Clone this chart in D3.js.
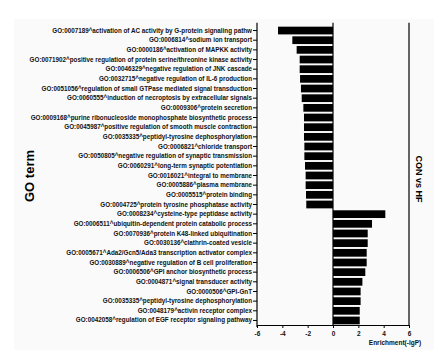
<!DOCTYPE html>
<html><head><meta charset="utf-8">
<script src="https://cdn.jsdelivr.net/npm/d3@7"></script>
<style>html,body{margin:0;padding:0;background:#fff;}svg{display:block;}</style>
</head><body>
<script>
const terms = [
"GO:0007189^activation of AC activity by G-protein signaling pathw",
"GO:0006814^sodium ion transport",
"GO:0000186^activation of MAPKK  activity",
"GO:0071902^positive regulation of protein serine/threonine kinase  activity",
"GO:0046329^negative regulation of JNK cascade",
"GO:0032715^negative regulation of IL-6 production",
"GO:0051056^regulation of small GTPase mediated signal transduction",
"GO:0060555^induction of necroptosis by extracellular  signals",
"GO:0009306^protein secretion",
"GO:0009168^purine ribonucleoside monophosphate biosynthetic process",
"GO:0045987^positive regulation of smooth muscle contraction",
"GO:0035335^peptidyl-tyrosine dephosphorylation",
"GO:0006821^chloride transport",
"GO:0050805^negative regulation of synaptic transmission",
"GO:0060291^long-term synaptic potentiation",
"GO:0016021^integral to membrane",
"GO:0005886^plasma membrane",
"GO:0005515^protein binding",
"GO:0004725^protein tyrosine phosphatase  activity",
"GO:0008234^cysteine-type peptidase activity",
"GO:0006511^ubiquitin-dependent protein catabolic process",
"GO:0070936^protein K48-linked ubiquitination",
"GO:0030136^clathrin-coated vesicle",
"GO:0005671^Ada2/Gcn5/Ada3 transcription activator complex",
"GO:0030889^negative regulation of B cell proliferation",
"GO:0006506^GPI anchor biosynthetic process",
"GO:0004871^signal transducer activity",
"GO:0000506^GPI-GnT",
"GO:0035335^peptidyl-tyrosine dephosphorylation",
"GO:0048179^activin receptor complex",
"GO:0042058^regulation of EGF receptor signaling pathway"
];
const enrichment = [
-4.34,-3.21,-2.87,-2.63,-2.63,-2.60,-2.53,-2.47,-2.34,-2.29,-2.29,-2.29,-2.26,-2.26,-2.21,-2.16,-2.16,-2.13,-2.11,
4.13,3.08,2.74,2.74,2.66,2.66,2.55,2.32,2.18,2.18,2.11,2.11
];
const xTicks = [-6,-4,-2,0,2,4,6];
const yTitle = "GO term";
const xTitle = "Enrichment(-lgP)";
const sideTitle = "CON vs HF";

const W = 439, H = 360;
const svg = d3.select("body").append("svg").attr("width", W).attr("height", H)
  .style("font-family", "'Liberation Sans', Arial, sans-serif");

svg.append("rect").attr("x",14).attr("y",19).attr("width",420).attr("height",331).attr("fill","#fafafa");

const pLeft = 257, pRight = 409, pTop = 22.7, pBottom = 325;
const x = d3.scaleLinear().domain([-6,6]).range([pLeft,pRight]);
const y = d3.scaleBand().domain(d3.range(terms.length)).range([25.7, 325.3]).paddingInner(0.2).paddingOuter(0.1);

svg.append("g").selectAll("rect").data(enrichment).join("rect")
  .attr("x", d => x(Math.min(0,d)))
  .attr("width", d => Math.abs(x(d)-x(0)))
  .attr("y", (d,i) => y(i))
  .attr("height", y.bandwidth())
  .attr("fill", "#000");

// left axis
const yAxis = d3.axisLeft(y).tickSize(4).tickSizeOuter(0).tickFormat(i => terms[i]);
const gy = svg.append("g").attr("transform", `translate(${pLeft},0)`).call(yAxis);
gy.select(".domain").attr("d", `M0,${pTop}V${pBottom+2}`).attr("stroke","#000").attr("stroke-width",1.2);
gy.selectAll(".tick line").attr("stroke","#000").attr("stroke-width",1);
gy.selectAll(".tick text").attr("x",-5).attr("font-size","6.3px").attr("font-weight","bold").attr("fill","#111");

// bottom axis
const xAxis = d3.axisBottom(x).tickValues(xTicks).tickSize(3).tickSizeOuter(0).tickFormat(d => String(d));
const gx = svg.append("g").attr("transform", `translate(0,${pBottom})`).call(xAxis);
gx.select(".domain").attr("stroke","#000").attr("stroke-width",1.2);
gx.selectAll(".tick line").attr("stroke","#000");
gx.selectAll(".tick text").attr("y",6).attr("font-size","6.5px").attr("font-weight","bold").attr("fill","#111");

// zero line and right border
svg.append("line").attr("x1",x(0)).attr("x2",x(0)).attr("y1",pTop).attr("y2",pBottom).attr("stroke","#000").attr("stroke-width",1.2);
svg.append("line").attr("x1",pRight).attr("x2",pRight).attr("y1",pTop).attr("y2",pBottom).attr("stroke","#000").attr("stroke-width",1.2);

svg.append("text").attr("transform","translate(34,176) rotate(-90)").attr("text-anchor","middle")
  .attr("font-size","13px").attr("font-weight","bold").text(yTitle);
svg.append("text").attr("transform","translate(416,179) rotate(90)").attr("text-anchor","middle")
  .attr("font-size","9px").attr("font-weight","bold").text(sideTitle);
svg.append("text").attr("x",395).attr("y",345).attr("text-anchor","middle")
  .attr("font-size","6.5px").attr("font-weight","bold").attr("fill","#111").text(xTitle);
</script>
</body></html>
